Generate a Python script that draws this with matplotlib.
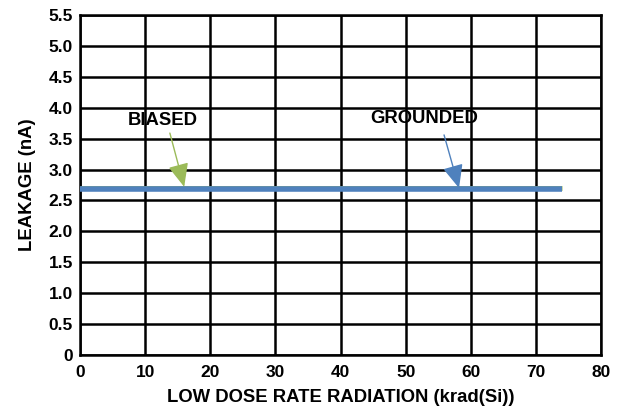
import matplotlib
matplotlib.use("Agg")
import matplotlib.pyplot as plt

plt.rcParams['font.family'] = ['Liberation Sans', 'DejaVu Sans']
plt.rcParams['font.weight'] = 'bold'

dose_biased = [0, 10, 20, 30, 40, 50, 60, 70, 74]
leak_biased = [2.705, 2.705, 2.705, 2.705, 2.705, 2.705, 2.705, 2.705, 2.705]
dose_grounded = [0, 10, 20, 30, 40, 50, 60, 70, 74]
leak_grounded = [2.69, 2.69, 2.69, 2.69, 2.69, 2.69, 2.69, 2.69, 2.69]
xticks = [0, 10, 20, 30, 40, 50, 60, 70, 80]
yticks = [0, 0.5, 1.0, 1.5, 2.0, 2.5, 3.0, 3.5, 4.0, 4.5, 5.0, 5.5]

fig = plt.figure(figsize=(6.23, 4.13), dpi=100)
ax = fig.add_axes([0.1284, 0.1404, 0.8363, 0.8233])

ax.plot(dose_biased, leak_biased, color='#9bbb59', lw=3.5, solid_capstyle='butt', zorder=3)
ax.plot(dose_grounded, leak_grounded, color='#4f81bd', lw=4, solid_capstyle='butt', zorder=4)

ax.set_xlim(0, 80)
ax.set_ylim(0, 5.5)
ax.set_xticks(xticks)
ax.set_yticks(yticks)
ax.set_xticklabels([str(t) for t in xticks])
ax.set_yticklabels([f"{t:.1f}" if t != 0 else "0" for t in yticks])
ax.grid(True, color='black', lw=1.8)
ax.set_axisbelow(True)
for s in ax.spines.values():
    s.set_linewidth(1.8)
ax.tick_params(axis='x', length=0, labelsize=12.5, pad=7)
ax.tick_params(axis='y', length=0, labelsize=12.5, pad=5)
for lab in ax.get_xticklabels() + ax.get_yticklabels():
    lab.set_fontweight('bold')

ax.set_xlabel('LOW DOSE RATE RADIATION (krad(Si))', fontsize=13.3, fontweight='bold', labelpad=7)
ax.set_ylabel('LEAKAGE (nA)', fontsize=13.3, fontweight='bold', labelpad=9)

ax.text(12.7, 3.79, 'BIASED', ha='center', va='center', fontsize=13.3, fontweight='bold')
ax.text(52.8, 3.83, 'GROUNDED', ha='center', va='center', fontsize=13.3, fontweight='bold')
ax.annotate('', xy=(16.0, 2.72), xytext=(13.8, 3.59), zorder=5,
            arrowprops=dict(arrowstyle='-|>,head_length=0.8,head_width=0.35', color='#9bbb59',
                            lw=1, mutation_scale=18, shrinkA=0, shrinkB=0))
ax.annotate('', xy=(58.2, 2.70), xytext=(55.9, 3.56), zorder=5,
            arrowprops=dict(arrowstyle='-|>,head_length=0.8,head_width=0.35', color='#4f81bd',
                            lw=1, mutation_scale=18, shrinkA=0, shrinkB=0))

fig.savefig('out.png', dpi=100)
